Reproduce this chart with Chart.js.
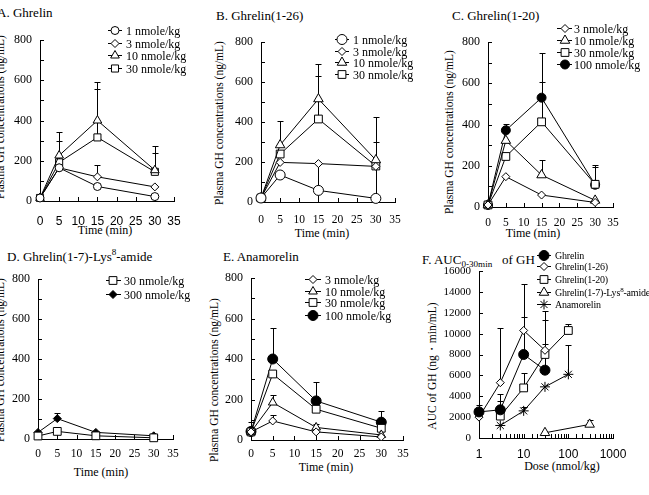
<!DOCTYPE html>
<html>
<head>
<meta charset="utf-8">
<script src="https://cdn.jsdelivr.net/npm/chart.js@4.4.0/dist/chart.umd.min.js"></script>
<style>
  body { margin: 0; background: #fff; }
  #wrap { position: relative; width: 649px; height: 495px; overflow: hidden; font-family: 'Liberation Serif', 'Times New Roman', serif; color: #000; }
  canvas { position: absolute; left: 0; top: 0; }
  .t { position: absolute; white-space: nowrap; line-height: 1; }
  .ttl { font-size: 13px; transform: translateY(-50%); }
  .ax { font-size: 12px; transform: translate(-50%, -50%); }
  .yl { font-size: 11.5px; transform: translate(-50%, -50%) rotate(-90deg); }
  .lg { font-size: 12px; transform: translateY(-50%); }
  .lgs { font-size: 10px; letter-spacing: -0.2px; transform: translateY(-50%); }
  sup, sub { font-size: 70%; line-height: 0; }
</style>
</head>
<body>
<div id="wrap">
  <div class="t ttl" style="left:-3px;top:12px">A. Ghrelin</div>
  <div class="t ttl" style="left:216px;top:15px">B. Ghrelin(1-26)</div>
  <div class="t ttl" style="left:452px;top:15px">C. Ghrelin(1-20)</div>
  <div class="t ttl" style="left:7px;top:256px">D. Ghrelin(1-7)-Lys<sup>8</sup>-amide</div>
  <div class="t ttl" style="left:223px;top:256px">E. Anamorelin</div>
  <div class="t ttl" style="left:422px;top:259px">F. AUC<sub>0-30min</sub>&nbsp;&nbsp;&nbsp;of GH</div>

  <div class="t ax" style="left:105px;top:230px">Time (min)</div>
  <div class="t ax" style="left:322px;top:233px">Time (min)</div>
  <div class="t ax" style="left:533px;top:233px">Time (min)</div>
  <div class="t ax" style="left:101px;top:472px">Time (min)</div>
  <div class="t ax" style="left:326px;top:467px">Time (min)</div>
  <div class="t ax" style="left:562px;top:466px">Dose (nmol/kg)</div>

  <div class="t yl" style="left:1px;top:117px">Plasma GH concentrations (ng/mL)</div>
  <div class="t yl" style="left:220px;top:123px">Plasma GH concentrations (ng/mL)</div>
  <div class="t yl" style="left:450px;top:132px">Plasma GH concentrations (ng/mL)</div>
  <div class="t yl" style="left:1px;top:360px">Plasma GH concentrations (ng/mL)</div>
  <div class="t yl" style="left:215px;top:380px">Plasma GH concentrations (ng/mL)</div>
  <div class="t yl" style="left:433px;top:366px">AUC of GH (ng・min/mL)</div>
</div>

<script>
// sampling times (min)
const timePoints = [0, 5, 15, 30];

// A. Ghrelin
const aLabels = ['1 nmole/kg', '3 nmole/kg', '10 nmole/kg', '30 nmole/kg'];
const aDose1 = [15, 165, 72, 22];
const aDose3 = [15, 165, 120, 70];
const aDose10 = [15, 226, 400, 153];
const aDose30 = [15, 192, 316, 145];
const aErr3 = [0, 0, 58, 0];
const aErr10 = [0, 116, 190, 122];
const aErr30 = [0, 108, 240, 95];

// B. Ghrelin(1-26)
const bLabels = ['1 nmole/kg', '3 nmole/kg', '10 nmole/kg', '30 nmole/kg'];
const bDose1 = [20, 135, 58, 18];
const bDose3 = [20, 198, 192, 178];
const bDose10 = [20, 285, 515, 210];
const bDose30 = [20, 240, 415, 180];
const bErr3Low = [0, 0, 192, 178];
const bErr10 = [0, 120, 175, 216];
const bErr30 = [0, 0, 217, 120];

// C. Ghrelin(1-20)
const cLabels = ['3 nmole/kg', '10 nmole/kg', '30 nmole/kg', '100 nmole/kg'];
const cDose3 = [10, 147, 58, 22];
const cDose10 = [10, 322, 155, 32];
const cDose30 = [10, 245, 413, 110];
const cDose100 = [10, 372, 530, 108];
const cErr10 = [0, 0, 73, 0];
const cErr30 = [0, 0, 192, 84];
const cErr100 = [0, 31, 215, 98];

// D. Ghrelin(1-7)-Lys8-amide
const dLabels = ['30 nmole/kg', '300 nmole/kg'];
const dDose30 = [15, 38, 16, 6];
const dDose300 = [33, 102, 33, 16];
const dErr300 = [0, 28, 0, 0];

// E. Anamorelin
const eLabels = ['3 nmole/kg', '10 nmole/kg', '30 nmole/kg', '100 nmole/kg'];
const eDose3 = [40, 94, 40, 15];
const eDose10 = [40, 185, 62, 25];
const eDose30 = [40, 326, 152, 58];
const eDose100 = [42, 400, 193, 88];
const eErr3 = [0, 30, 0, 0];
const eErr10 = [0, 38, 15, 0];
const eErr100 = [45, 152, 95, 56];

// F. AUC 0-30 min
const fLabels = ['Ghrelin', 'Ghrelin(1-26)', 'Ghrelin(1-20)', 'Ghrelin(1-7)-Lys8-amide', 'Anamorelin'];
const fGhrelinDose = [1, 3, 10, 30];
const fGhrelin = [2500, 2700, 8000, 6500];
const fGhrelinErr = [700, 1500, 3600, 4800];
const f126Dose = [1, 3, 10, 30];
const f126 = [2000, 5300, 10300, 8400];
const f126Err = [0, 5200, 4500, 3800];
const f120Dose = [3, 10, 30, 100];
const f120 = [2100, 4800, 8000, 10300];
const f120Err = [1400, 1400, 1000, 600];
const fLysDose = [30, 300];
const fLys = [500, 1300];
const fLysErr = [0, 400];
const fAnaDose = [3, 10, 30, 100];
const fAna = [1200, 2600, 4900, 6100];
const fAnaErr = [0, 400, 0, 2800];

const serif = 'Liberation Serif';
const sans = 'Liberation Sans';

function series(label, xs, ys, style, filled, radius, errUp, errDown) {
  return {
    label: label,
    data: xs.map((x, i) => ({ x: x, y: ys[i] })),
    errUp: errUp,
    errDown: errDown,
    borderColor: '#000',
    borderWidth: 1,
    pointStyle: style,
    pointRadius: radius,
    pointBackgroundColor: filled ? '#000' : '#fff',
    pointBorderColor: '#000',
    pointBorderWidth: 1,
    fill: false,
    tension: 0,
    clip: false
  };
}

// inward tick marks and error bars, drawn under the markers
const errorBars = {
  id: 'errorBars',
  beforeDatasetsDraw(chart) {
    const ctx = chart.ctx, ys = chart.scales.y, a = chart.chartArea;
    ctx.save();
    ctx.strokeStyle = '#000';
    ctx.lineWidth = 1;
    ctx.beginPath();
    chart.scales.x.ticks.forEach((t, i) => {
      const px = Math.round(chart.scales.x.getPixelForTick(i)) + 0.5;
      ctx.moveTo(px, a.bottom); ctx.lineTo(px, a.bottom - 4);
    });
    ys.ticks.forEach((t, i) => {
      const py = Math.round(ys.getPixelForTick(i)) + 0.5;
      ctx.moveTo(a.left, py); ctx.lineTo(a.left + 4, py);
    });
    chart.data.datasets.forEach((ds, di) => {
      const meta = chart.getDatasetMeta(di);
      meta.data.forEach((pt, i) => {
        const v = ds.data[i].y;
        [[ds.errUp, 1], [ds.errDown, -1]].forEach(([arr, sgn]) => {
          if (!arr || !arr[i]) return;
          const yy = Math.round(ys.getPixelForValue(v + sgn * arr[i])) + 0.5;
          const x = Math.round(pt.x) + 0.5;
          ctx.moveTo(x, pt.y); ctx.lineTo(x, yy);
          ctx.moveTo(x - 3, yy); ctx.lineTo(x + 3, yy);
        });
      });
    });
    ctx.stroke();
    ctx.restore();
  }
};

// legend samples (line + marker); the text is html
const legendMarks = {
  id: 'legendMarks',
  afterDraw(chart, args, opts) {
    if (!opts.rows) return;
    const ctx = chart.ctx;
    chart.data.datasets.forEach((ds, i) => {
      const y = opts.rows[i] + 0.5;
      ctx.save();
      ctx.strokeStyle = '#000';
      ctx.lineWidth = 1;
      ctx.beginPath(); ctx.moveTo(opts.x0, y); ctx.lineTo(opts.x1, y); ctx.stroke();
      ctx.fillStyle = ds.pointBackgroundColor;
      Chart.helpers.drawPoint(ctx, { pointStyle: ds.pointStyle, radius: ds.pointRadius, rotation: 0, borderWidth: 1 }, opts.mx, y);
      ctx.restore();
    });
  }
};

function makePanel(p) {
  const canvas = document.createElement('canvas');
  canvas.width = 649; canvas.height = 495;
  document.getElementById('wrap').appendChild(canvas);

  const xOpts = p.logX ? {
    type: 'logarithmic', min: 1, max: 1000,
    ticks: { autoSkip: false, maxRotation: 0, padding: p.xPad, color: '#000', font: { family: sans, size: 12 },
      callback: v => ([1, 10, 100, 1000].includes(v) ? String(v) : '') }
  } : {
    type: 'linear', min: 0, max: 35,
    ticks: { stepSize: 5, autoSkip: false, maxRotation: 0, padding: p.xPad, color: '#000', font: p.xFont }
  };
  xOpts.grid = { display: false, drawTicks: false };
  xOpts.border = { display: true, color: '#000', width: 1 };
  xOpts.afterFit = s => { s.height = 30; };

  const yOpts = {
    type: 'linear', min: 0, max: p.yMax,
    ticks: { stepSize: p.yStep, autoSkip: false, padding: 8, color: '#000', font: { family: serif, size: p.yFontSize },
      callback: v => (v % p.yLabelEvery === 0 ? String(v) : '') },
    grid: { display: false, drawTicks: false },
    border: { display: true, color: '#000', width: 1 },
    afterFit: s => { s.width = 40; }
  };

  new Chart(canvas, {
    type: 'line',
    data: { datasets: p.sets },
    options: {
      responsive: false,
      animation: false,
      devicePixelRatio: 1,
      layout: { padding: { left: p.area.left - 40, right: 649 - p.area.right, top: p.area.top, bottom: 495 - p.area.bottom - 30 } },
      plugins: { legend: { display: false }, tooltip: { enabled: false }, legendMarks: p.legend },
      scales: { x: xOpts, y: yOpts }
    },
    plugins: [errorBars, legendMarks]
  });

  // legend text
  p.sets.forEach((ds, i) => {
    const d = document.createElement('div');
    d.className = 't ' + (p.smallLegend ? 'lgs' : 'lg');
    d.style.left = p.legend.tx + 'px';
    d.style.top = (p.legend.rows[i] + 0.5) + 'px';
    d.innerHTML = ds.label.replace('Lys8', 'Lys<sup>8</sup>');
    document.getElementById('wrap').appendChild(d);
  });
}

const timeY = { yMax: 800, yStep: 100, yLabelEvery: 200, yFontSize: 12 };

makePanel(Object.assign({}, timeY, {
  area: { left: 40, right: 174, top: 40, bottom: 201 }, xPad: 13, xFont: { family: sans, size: 12 },
  sets: [
    series(aLabels[0], timePoints, aDose1, 'circle', false, 4),
    series(aLabels[1], timePoints, aDose3, 'rectRot', false, 4, aErr3),
    series(aLabels[2], timePoints, aDose10, 'triangle', false, 5, aErr10),
    series(aLabels[3], timePoints, aDose30, 'rect', false, 5, aErr30)
  ],
  legend: { x0: 108, mx: 115, x1: 122, tx: 126, rows: [30, 43, 55, 68] }
}));

makePanel(Object.assign({}, timeY, {
  area: { left: 261, right: 395, top: 42, bottom: 202 }, xPad: 11, xFont: { family: serif, size: 11.5 },
  sets: [
    series(bLabels[0], timePoints, bDose1, 'circle', false, 5),
    series(bLabels[1], timePoints, bDose3, 'rectRot', false, 4, null, bErr3Low),
    series(bLabels[2], timePoints, bDose10, 'triangle', false, 5.5, bErr10),
    series(bLabels[3], timePoints, bDose30, 'rect', false, 5.5, bErr30)
  ],
  legend: { x0: 335, mx: 342, x1: 349, tx: 353, rows: [39, 51, 62, 74] }
}));

makePanel(Object.assign({}, timeY, {
  area: { left: 488, right: 613, top: 42, bottom: 207 }, xPad: 9, xFont: { family: serif, size: 11.5 },
  sets: [
    series(cLabels[0], timePoints, cDose3, 'rectRot', false, 4),
    series(cLabels[1], timePoints, cDose10, 'triangle', false, 5.5, cErr10),
    series(cLabels[2], timePoints, cDose30, 'rect', false, 5.5, cErr30),
    series(cLabels[3], timePoints, cDose100, 'circle', true, 4.5, cErr100)
  ],
  legend: { x0: 557, mx: 565, x1: 572, tx: 574, rows: [28, 40, 52, 64] }
}));

makePanel(Object.assign({}, timeY, {
  area: { left: 38, right: 173, top: 279, bottom: 439 }, xPad: 8, xFont: { family: serif, size: 11.5 },
  sets: [
    series(dLabels[0], timePoints, dDose30, 'rect', false, 5.5),
    series(dLabels[1], timePoints, dDose300, 'rectRot', true, 4, dErr300)
  ],
  legend: { x0: 106, mx: 113, x1: 121, tx: 124, rows: [280, 294] }
}));

makePanel(Object.assign({}, timeY, {
  area: { left: 251, right: 403, top: 278, bottom: 440 }, xPad: 7, xFont: { family: serif, size: 11.5 },
  sets: [
    series(eLabels[0], timePoints, eDose3, 'rectRot', false, 4, eErr3),
    series(eLabels[1], timePoints, eDose10, 'triangle', false, 5, eErr10),
    series(eLabels[2], timePoints, eDose30, 'rect', false, 5.5),
    series(eLabels[3], timePoints, eDose100, 'circle', true, 5, eErr100)
  ],
  legend: { x0: 305, mx: 313, x1: 321, tx: 325, rows: [279, 291, 302, 315] }
}));

makePanel({
  area: { left: 479, right: 613, top: 271, bottom: 438 }, xPad: 9, logX: true,
  yMax: 16000, yStep: 2000, yLabelEvery: 2000, yFontSize: 11, smallLegend: true,
  sets: [
    series(fLabels[0], fGhrelinDose, fGhrelin, 'circle', true, 5, fGhrelinErr),
    series(fLabels[1], f126Dose, f126, 'rectRot', false, 4, f126Err),
    series(fLabels[2], f120Dose, f120, 'rect', false, 5.5, f120Err),
    series(fLabels[3], fLysDose, fLys, 'triangle', false, 5.5, fLysErr),
    series(fLabels[4], fAnaDose, fAna, 'star', false, 5, fAnaErr)
  ],
  legend: { x0: 537, mx: 544, x1: 551, tx: 555, rows: [255, 266, 279, 292, 304] }
});
</script>
</body>
</html>
